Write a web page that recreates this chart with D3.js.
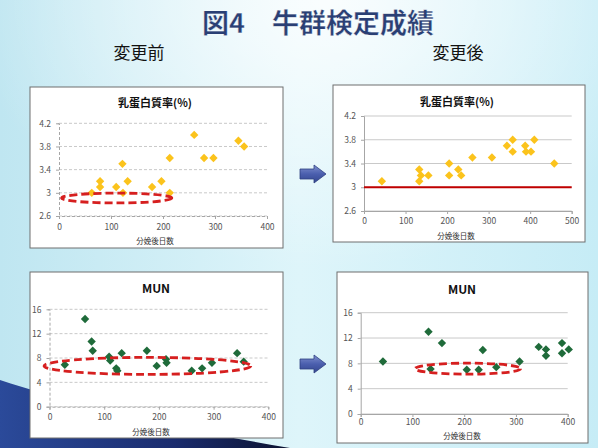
<!DOCTYPE html>
<html><head><meta charset="utf-8">
<script src="https://cdn.jsdelivr.net/npm/d3@7"></script>
<style>
html,body{margin:0;padding:0;overflow:hidden;background:#d4f0f8;}
text{font-family:"Noto Sans CJK JP","Liberation Sans",sans-serif;}
</style></head>
<body>
<script>
// ---- data ----
const slideTitle = "図4　牛群検定成績";
const beforeLabel = "変更前";
const afterLabel = "変更後";
const proteinTitle = "乳蛋白質率(%)";
const munTitle = "MUN";
const xAxisTitle = "分娩後日数";

const proteinTicks = [2.6, 3, 3.4, 3.8, 4.2];
const munTicks = [0, 4, 8, 12, 16];
const daysTicks400 = [0, 100, 200, 300, 400];
const daysTicks500 = [0, 100, 200, 300, 400, 500];

const protBeforeDays = [63, 79, 79, 110, 122, 123, 132, 179, 197, 213, 213, 260, 279, 297, 345, 356];
const protBeforeVal  = [3.0, 3.2, 3.1, 3.1, 3.5, 3.0, 3.2, 3.1, 3.2, 3.6, 3.0, 4.0, 3.6, 3.6, 3.9, 3.8];

const protAfterDays = [43, 133, 133, 137, 155, 205, 205, 227, 234, 261, 308, 344, 358, 358, 388, 390, 402, 410, 458];
const protAfterVal  = [3.1, 3.3, 3.1, 3.2, 3.2, 3.4, 3.2, 3.3, 3.2, 3.5, 3.5, 3.7, 3.8, 3.6, 3.7, 3.6, 3.6, 3.8, 3.4];
const protTarget = 3.0;

const munBeforeDays = [28, 65, 77, 79, 109, 111, 122, 124, 132, 178, 196, 213, 214, 260, 279, 297, 343, 355];
const munBeforeVal  = [6.9, 14.4, 10.7, 9.2, 8.2, 7.6, 6.3, 5.9, 8.8, 9.2, 6.7, 7.8, 7.2, 5.9, 6.3, 7.2, 8.8, 7.4];

const munAfterDays = [43, 131, 135, 157, 205, 228, 236, 262, 307, 344, 358, 358, 389, 389, 402];
const munAfterVal  = [8.3, 13.0, 7.1, 11.2, 7.0, 7.0, 10.1, 7.4, 8.3, 10.6, 10.2, 9.2, 11.2, 9.6, 10.2];

// highlighted region (data units: centre day, centre value, half-width days, half-height value)
const protBeforeHighlight = [111, 2.91, 106, 0.085];
const munBeforeHighlight  = [179, 6.7, 189, 1.4];
const munAfterHighlight   = [207, 7.16, 102, 0.87];

// ---- drawing ----
const W = 598, H = 448;
const svg = d3.select("body").append("svg").attr("width", W).attr("height", H);
const defs = svg.append("defs");

const bg = defs.append("linearGradient").attr("id","bg").attr("x1","0").attr("x2","1").attr("y1","0").attr("y2","0");
bg.append("stop").attr("offset","0").attr("stop-color","#bfe6f1");
bg.append("stop").attr("offset","0.5").attr("stop-color","#def5fa");
bg.append("stop").attr("offset","1").attr("stop-color","#c6ecf6");
svg.append("rect").attr("width",W).attr("height",H).attr("fill","url(#bg)");
const topGlow = defs.append("radialGradient").attr("id","glow").attr("cx","0.55").attr("cy","0").attr("r","0.6");
topGlow.append("stop").attr("offset","0").attr("stop-color","#ffffff").attr("stop-opacity",0.85);
topGlow.append("stop").attr("offset","1").attr("stop-color","#ffffff").attr("stop-opacity",0);
svg.append("rect").attr("width",W).attr("height",H).attr("fill","url(#glow)");

// dark swoosh bottom-left
const sw = defs.append("linearGradient").attr("id","sw").attr("x1","0").attr("x2","1").attr("y1","0").attr("y2","0");
sw.append("stop").attr("offset","0").attr("stop-color","#2b4a9a");
sw.append("stop").attr("offset","0.6").attr("stop-color","#1a2c6e");
sw.append("stop").attr("offset","1").attr("stop-color","#0b1230");
svg.append("path").attr("d","M0,380 C60,400 170,428 290,448 L0,448 Z").attr("fill","url(#sw)");

// titles
svg.append("text").attr("x",318).attr("y",33).attr("text-anchor","middle")
  .attr("font-size",27).attr("font-weight","bold").attr("fill","#2a3f74")
  .attr("stroke","#ffffff").attr("stroke-width",0.3).text(slideTitle);
svg.append("text").attr("x",139).attr("y",59).attr("text-anchor","middle")
  .attr("font-size",17).attr("fill","#111").text(beforeLabel);
svg.append("text").attr("x",458).attr("y",59).attr("text-anchor","middle")
  .attr("font-size",17).attr("fill","#111").text(afterLabel);

// arrows
const ag = defs.append("linearGradient").attr("id","ag").attr("x1","0").attr("x2","0").attr("y1","0").attr("y2","1");
ag.append("stop").attr("offset","0").attr("stop-color","#7f90cf");
ag.append("stop").attr("offset","0.5").attr("stop-color","#4b5fae");
ag.append("stop").attr("offset","1").attr("stop-color","#34478f");
function arrow(x0, cy) {
  const p = d3.path();
  p.moveTo(x0, cy-5); p.lineTo(x0+14, cy-5); p.lineTo(x0+14, cy-9); p.lineTo(x0+26, cy);
  p.lineTo(x0+14, cy+9); p.lineTo(x0+14, cy+5); p.lineTo(x0, cy+5); p.closePath();
  svg.append("path").attr("d", p.toString()).attr("fill","url(#ag)").attr("stroke","#2f3f80").attr("stroke-width",0.8);
}
arrow(300, 174);
arrow(300, 364);

function diamond(r){ return `M0,${-r}L${r},0L0,${r}L${-r},0Z`; }

function panel(cfg) {
  const g = svg.append("g");
  g.append("rect").attr("x",cfg.box[0]).attr("y",cfg.box[1]).attr("width",cfg.box[2]).attr("height",cfg.box[3])
    .attr("fill","#ffffff").attr("stroke","#6f6f6f").attr("stroke-width",1);
  const x = d3.scaleLinear().domain(cfg.xDomain).range(cfg.xRange);
  const y = d3.scaleLinear().domain(cfg.yDomain).range(cfg.yRange);
  // gridlines
  g.selectAll(".grid").data(cfg.yTicks).join("line")
    .attr("x1", x(cfg.xDomain[0])).attr("x2", x(cfg.xDomain[1]))
    .attr("y1", d=>y(d)).attr("y2", d=>y(d))
    .attr("stroke", "#c9c9c9").attr("stroke-width", 1)
    .attr("stroke-dasharray", cfg.dash ? "3,2" : null);
  // axes
  const ax = g.append("g").attr("transform",`translate(0,${y(cfg.yDomain[0])})`)
    .call(d3.axisBottom(x).tickValues(cfg.xTicks).tickSize(3).tickPadding(cfg.xPad).tickFormat(d3.format("d")));
  const ay = g.append("g").attr("transform",`translate(${x(cfg.xDomain[0])},0)`)
    .call(d3.axisLeft(y).tickValues(cfg.yTicks).tickSize(3).tickPadding(5).tickFormat(d=>String(d)));
  [ax, ay].forEach(a => {
    a.select(".domain").attr("stroke","#a6a6a6").attr("stroke-dasharray", cfg.dash ? "3,2" : null);
    a.selectAll(".tick line").attr("stroke","#a6a6a6");
    a.selectAll("text").attr("font-size",8.5).attr("fill","#555")
      .attr("font-family","'Liberation Sans',sans-serif");
  });
  if (cfg.refLine !== undefined) {
    g.append("line").attr("x1", x(cfg.xDomain[0])).attr("x2", x(cfg.xDomain[1]))
      .attr("y1", y(cfg.refLine)).attr("y2", y(cfg.refLine))
      .attr("stroke","#c00000").attr("stroke-width",2);
  }
  // title
  g.append("text").attr("x", cfg.titlePos[0]).attr("y", cfg.titlePos[1]).attr("text-anchor","middle")
    .attr("font-size", cfg.titleSize).attr("font-weight","bold").attr("fill","#111").text(cfg.title);
  g.append("text").attr("x", cfg.xtPos[0]).attr("y", cfg.xtPos[1]).attr("text-anchor","middle")
    .attr("font-size", 7.5).attr("fill","#333").text(xAxisTitle);
  // points
  g.selectAll(".pt").data(cfg.xs.map((d,i)=>[d, cfg.ys[i]])).join("path")
    .attr("d", diamond(4.2))
    .attr("transform", d=>`translate(${x(d[0])},${y(d[1])})`)
    .attr("fill", cfg.color);
  // highlight
  if (cfg.hl) {
    const [cx, cy, rx, ry] = cfg.hl;
    g.append("ellipse").attr("cx", x(cx)).attr("cy", y(cy))
      .attr("rx", x(cx+rx)-x(cx)).attr("ry", y(cy-ry)-y(cy))
      .attr("fill","none").attr("stroke","#d61f1f").attr("stroke-width",2.8)
      .attr("stroke-dasharray","8,4");
  }
}

panel({box:[30,87,253,161], xDomain:[0,400], xRange:[59,267], yDomain:[2.6,4.2], yRange:[216,123.3],
  xTicks:daysTicks400, yTicks:proteinTicks, dash:true, xPad:5, title:proteinTitle, titleSize:11, titlePos:[155,107],
  xtPos:[155,244], xs:protBeforeDays, ys:protBeforeVal, color:"#fbc31c", hl:protBeforeHighlight});

panel({box:[333,85,252,157], xDomain:[0,500], xRange:[364,571.7], yDomain:[2.6,4.2], yRange:[211,116],
  xTicks:daysTicks500, yTicks:proteinTicks, dash:false, xPad:4, title:proteinTitle, titleSize:11, titlePos:[457,106],
  xtPos:[456,239], xs:protAfterDays, ys:protAfterVal, color:"#fbc31c", refLine:protTarget});

panel({box:[30,272,253,166], xDomain:[0,400], xRange:[49.5,268.3], yDomain:[0,16], yRange:[406.7,309.3],
  xTicks:daysTicks400, yTicks:munTicks, dash:true, xPad:4, title:munTitle, titleSize:12, titlePos:[156,293],
  xtPos:[151,435], xs:munBeforeDays, ys:munBeforeVal, color:"#1f6b3a", hl:munBeforeHighlight});

panel({box:[337,272,251,171], xDomain:[0,400], xRange:[360.7,567.7], yDomain:[0,16], yRange:[414,312.7],
  xTicks:daysTicks400, yTicks:munTicks, dash:false, xPad:2, title:munTitle, titleSize:12, titlePos:[462,294],
  xtPos:[462,439], xs:munAfterDays, ys:munAfterVal, color:"#1f6b3a", hl:munAfterHighlight});
</script>
</body></html>
